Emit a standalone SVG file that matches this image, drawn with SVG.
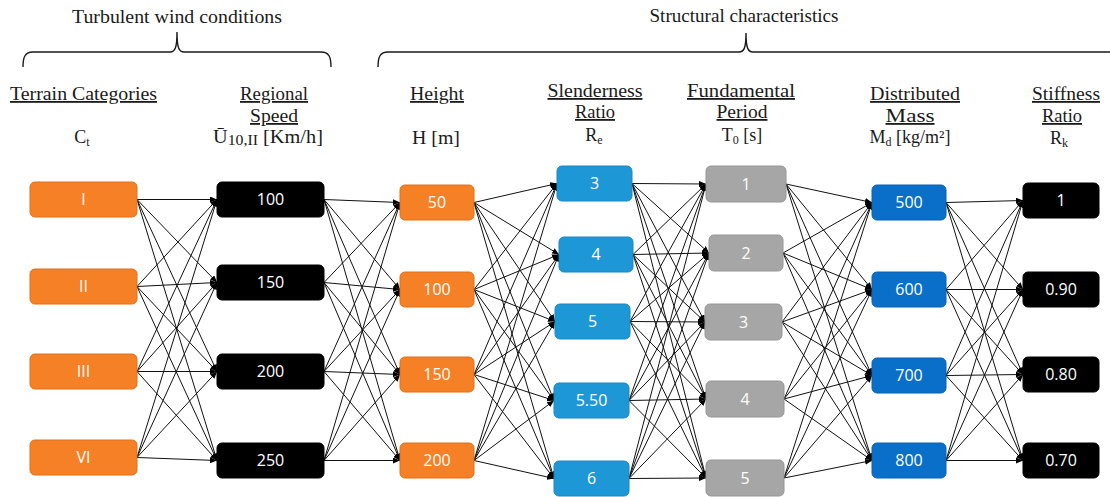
<svg xmlns="http://www.w3.org/2000/svg" width="1110" height="497" viewBox="0 0 1110 497">
  <style>
    .hd { font-family: "Liberation Serif", "Times New Roman", serif; font-size: 18px; fill: #1a1a1a; text-anchor: middle; }
    .ul { text-decoration: underline; }
    .sub { font-size: 12px; }
    .brace { fill: none; stroke: #1a1a1a; stroke-width: 1.4; }
    .box { stroke-width: 1; }
    .lbl { font-family: "Open Sans", "Liberation Sans", sans-serif; font-size: 16px; fill: #ffffff; text-anchor: middle; }
    .terrain { fill: #F58025; stroke: #E27018; }
    .speed { fill: #000000; stroke: #000000; }
    .height { fill: #F58025; stroke: #E27018; }
    .slender { fill: #1E97D6; stroke: #1A88C4; }
    .period { fill: #A6A6A6; stroke: #969696; }
    .mass { fill: #0A6FC8; stroke: #0963B4; }
    .stiff { fill: #000000; stroke: #000000; }
    #connectors line { stroke: #111; stroke-width: 1; marker-end: url(#arrow); }
  </style>
  <defs>
    <marker id="arrow" markerUnits="userSpaceOnUse" markerWidth="7" markerHeight="6" refX="7" refY="3" orient="auto">
      <path d="M0,0 L7,3 L0,6 z" fill="#000"/>
    </marker>
  </defs>

  <!-- group titles and braces -->
  <g id="group-wind">
    <text class="hd" x="177" y="23" font-size="19" textLength="210" lengthAdjust="spacingAndGlyphs">Turbulent wind conditions</text>
    <path class="brace" d="M23,67 C23,57 25,52 33,52 L170,52 C175,52 177,48 177,32 C177,48 179,52 184,52 L321,52 C329,52 331,57 331,67"/>
  </g>
  <g id="group-structure">
    <text class="hd" x="744" y="22" font-size="19" textLength="189" lengthAdjust="spacingAndGlyphs">Structural characteristics</text>
    <path class="brace" d="M378,67 C378,57 380,52 388,52 L739,52 C744,52 746,48 746,33 C746,48 748,52 753,52 L1112,52"/>
  </g>

  <!-- column headers -->
  <g id="header-terrain">
    <text class="hd ul" x="83.5" y="100" textLength="147" lengthAdjust="spacingAndGlyphs">Terrain Categories</text>
    <text class="hd" x="82" y="143">C<tspan class="sub" dy="3">t</tspan></text>
  </g>
  <g id="header-speed">
    <text class="hd ul" x="274" y="100" textLength="68" lengthAdjust="spacingAndGlyphs">Regional</text>
    <text class="hd ul" x="274" y="122" textLength="48" lengthAdjust="spacingAndGlyphs">Speed</text>
    <text class="hd" x="268" y="143" textLength="110" lengthAdjust="spacingAndGlyphs">Ū<tspan font-size="14" dy="2">10,II</tspan><tspan dy="-2"> [Km/h]</tspan></text>
  </g>
  <g id="header-height">
    <text class="hd ul" x="437" y="100" textLength="54" lengthAdjust="spacingAndGlyphs">Height</text>
    <text class="hd" x="436" y="144" textLength="48" lengthAdjust="spacingAndGlyphs">H [m]</text>
  </g>
  <g id="header-slenderness">
    <text class="hd ul" x="595" y="97" textLength="95" lengthAdjust="spacingAndGlyphs">Slenderness</text>
    <text class="hd ul" x="595" y="118" textLength="40" lengthAdjust="spacingAndGlyphs">Ratio</text>
    <text class="hd" x="594" y="141">R<tspan class="sub" dy="3">e</tspan></text>
  </g>
  <g id="header-period">
    <text class="hd ul" x="741" y="97" textLength="108" lengthAdjust="spacingAndGlyphs">Fundamental</text>
    <text class="hd ul" x="742" y="118" textLength="51" lengthAdjust="spacingAndGlyphs">Period</text>
    <text class="hd" x="742" y="141">T<tspan class="sub" dy="3">0</tspan><tspan dy="-3"> [s]</tspan></text>
  </g>
  <g id="header-mass">
    <text class="hd ul" x="915" y="100" textLength="90" lengthAdjust="spacingAndGlyphs">Distributed</text>
    <text class="hd ul" x="910" y="122" textLength="49" lengthAdjust="spacingAndGlyphs">Mass</text>
    <text class="hd" x="910" y="143">M<tspan class="sub" dy="3">d</tspan><tspan dy="-3"> [kg/m²]</tspan></text>
  </g>
  <g id="header-stiffness">
    <text class="hd ul" x="1066" y="100" textLength="68" lengthAdjust="spacingAndGlyphs">Stiffness</text>
    <text class="hd ul" x="1062" y="122" textLength="40" lengthAdjust="spacingAndGlyphs">Ratio</text>
    <text class="hd" x="1059" y="144">R<tspan class="sub" dy="3">k</tspan></text>
  </g>

  <!-- connectors: every value feeds every value of the next column -->
  <g id="connectors">
    <!-- terrain -> speed -->
    <line x1="137" y1="199.5" x2="217" y2="199.5"/>
    <line x1="137" y1="199.5" x2="217" y2="282.5"/>
    <line x1="137" y1="199.5" x2="217" y2="371.5"/>
    <line x1="137" y1="199.5" x2="217" y2="460.5"/>
    <line x1="137" y1="286.5" x2="217" y2="199.5"/>
    <line x1="137" y1="286.5" x2="217" y2="282.5"/>
    <line x1="137" y1="286.5" x2="217" y2="371.5"/>
    <line x1="137" y1="286.5" x2="217" y2="460.5"/>
    <line x1="137" y1="371.5" x2="217" y2="199.5"/>
    <line x1="137" y1="371.5" x2="217" y2="282.5"/>
    <line x1="137" y1="371.5" x2="217" y2="371.5"/>
    <line x1="137" y1="371.5" x2="217" y2="460.5"/>
    <line x1="137" y1="457.5" x2="217" y2="199.5"/>
    <line x1="137" y1="457.5" x2="217" y2="282.5"/>
    <line x1="137" y1="457.5" x2="217" y2="371.5"/>
    <line x1="137" y1="457.5" x2="217" y2="460.5"/>
    <!-- speed -> height -->
    <line x1="324" y1="199.5" x2="400" y2="202.5"/>
    <line x1="324" y1="199.5" x2="400" y2="289.5"/>
    <line x1="324" y1="199.5" x2="400" y2="374.5"/>
    <line x1="324" y1="199.5" x2="400" y2="460.5"/>
    <line x1="324" y1="282.5" x2="400" y2="202.5"/>
    <line x1="324" y1="282.5" x2="400" y2="289.5"/>
    <line x1="324" y1="282.5" x2="400" y2="374.5"/>
    <line x1="324" y1="282.5" x2="400" y2="460.5"/>
    <line x1="324" y1="371.5" x2="400" y2="202.5"/>
    <line x1="324" y1="371.5" x2="400" y2="289.5"/>
    <line x1="324" y1="371.5" x2="400" y2="374.5"/>
    <line x1="324" y1="371.5" x2="400" y2="460.5"/>
    <line x1="324" y1="460.5" x2="400" y2="202.5"/>
    <line x1="324" y1="460.5" x2="400" y2="289.5"/>
    <line x1="324" y1="460.5" x2="400" y2="374.5"/>
    <line x1="324" y1="460.5" x2="400" y2="460.5"/>
    <!-- height -> slenderness -->
    <line x1="474" y1="202.5" x2="557" y2="183.5"/>
    <line x1="474" y1="202.5" x2="559" y2="254.5"/>
    <line x1="474" y1="202.5" x2="555" y2="321.5"/>
    <line x1="474" y1="202.5" x2="554" y2="400.5"/>
    <line x1="474" y1="202.5" x2="554" y2="478.5"/>
    <line x1="474" y1="289.5" x2="557" y2="183.5"/>
    <line x1="474" y1="289.5" x2="559" y2="254.5"/>
    <line x1="474" y1="289.5" x2="555" y2="321.5"/>
    <line x1="474" y1="289.5" x2="554" y2="400.5"/>
    <line x1="474" y1="289.5" x2="554" y2="478.5"/>
    <line x1="474" y1="374.5" x2="557" y2="183.5"/>
    <line x1="474" y1="374.5" x2="559" y2="254.5"/>
    <line x1="474" y1="374.5" x2="555" y2="321.5"/>
    <line x1="474" y1="374.5" x2="554" y2="400.5"/>
    <line x1="474" y1="374.5" x2="554" y2="478.5"/>
    <line x1="474" y1="460.5" x2="557" y2="183.5"/>
    <line x1="474" y1="460.5" x2="559" y2="254.5"/>
    <line x1="474" y1="460.5" x2="555" y2="321.5"/>
    <line x1="474" y1="460.5" x2="554" y2="400.5"/>
    <line x1="474" y1="460.5" x2="554" y2="478.5"/>
    <!-- slenderness -> period -->
    <line x1="632" y1="183.5" x2="706" y2="184"/>
    <line x1="632" y1="183.5" x2="709" y2="253"/>
    <line x1="632" y1="183.5" x2="705" y2="322"/>
    <line x1="632" y1="183.5" x2="706" y2="399"/>
    <line x1="632" y1="183.5" x2="706" y2="478"/>
    <line x1="633" y1="254.5" x2="706" y2="184"/>
    <line x1="633" y1="254.5" x2="709" y2="253"/>
    <line x1="633" y1="254.5" x2="705" y2="322"/>
    <line x1="633" y1="254.5" x2="706" y2="399"/>
    <line x1="633" y1="254.5" x2="706" y2="478"/>
    <line x1="630" y1="321.5" x2="706" y2="184"/>
    <line x1="630" y1="321.5" x2="709" y2="253"/>
    <line x1="630" y1="321.5" x2="705" y2="322"/>
    <line x1="630" y1="321.5" x2="706" y2="399"/>
    <line x1="630" y1="321.5" x2="706" y2="478"/>
    <line x1="629" y1="400.5" x2="706" y2="184"/>
    <line x1="629" y1="400.5" x2="709" y2="253"/>
    <line x1="629" y1="400.5" x2="705" y2="322"/>
    <line x1="629" y1="400.5" x2="706" y2="399"/>
    <line x1="629" y1="400.5" x2="706" y2="478"/>
    <line x1="629" y1="478.5" x2="706" y2="184"/>
    <line x1="629" y1="478.5" x2="709" y2="253"/>
    <line x1="629" y1="478.5" x2="705" y2="322"/>
    <line x1="629" y1="478.5" x2="706" y2="399"/>
    <line x1="629" y1="478.5" x2="706" y2="478"/>
    <!-- period -> mass -->
    <line x1="786" y1="184" x2="872" y2="202.5"/>
    <line x1="786" y1="184" x2="872" y2="289.5"/>
    <line x1="786" y1="184" x2="872" y2="375.5"/>
    <line x1="786" y1="184" x2="872" y2="460.5"/>
    <line x1="783" y1="253" x2="872" y2="202.5"/>
    <line x1="783" y1="253" x2="872" y2="289.5"/>
    <line x1="783" y1="253" x2="872" y2="375.5"/>
    <line x1="783" y1="253" x2="872" y2="460.5"/>
    <line x1="782" y1="322" x2="872" y2="202.5"/>
    <line x1="782" y1="322" x2="872" y2="289.5"/>
    <line x1="782" y1="322" x2="872" y2="375.5"/>
    <line x1="782" y1="322" x2="872" y2="460.5"/>
    <line x1="784" y1="399" x2="872" y2="202.5"/>
    <line x1="784" y1="399" x2="872" y2="289.5"/>
    <line x1="784" y1="399" x2="872" y2="375.5"/>
    <line x1="784" y1="399" x2="872" y2="460.5"/>
    <line x1="784" y1="478" x2="872" y2="202.5"/>
    <line x1="784" y1="478" x2="872" y2="289.5"/>
    <line x1="784" y1="478" x2="872" y2="375.5"/>
    <line x1="784" y1="478" x2="872" y2="460.5"/>
    <!-- mass -> stiffness -->
    <line x1="946" y1="202.5" x2="1023" y2="200.5"/>
    <line x1="946" y1="202.5" x2="1023" y2="289.5"/>
    <line x1="946" y1="202.5" x2="1023" y2="374.5"/>
    <line x1="946" y1="202.5" x2="1023" y2="460.5"/>
    <line x1="946" y1="289.5" x2="1023" y2="200.5"/>
    <line x1="946" y1="289.5" x2="1023" y2="289.5"/>
    <line x1="946" y1="289.5" x2="1023" y2="374.5"/>
    <line x1="946" y1="289.5" x2="1023" y2="460.5"/>
    <line x1="946" y1="375.5" x2="1023" y2="200.5"/>
    <line x1="946" y1="375.5" x2="1023" y2="289.5"/>
    <line x1="946" y1="375.5" x2="1023" y2="374.5"/>
    <line x1="946" y1="375.5" x2="1023" y2="460.5"/>
    <line x1="946" y1="460.5" x2="1023" y2="200.5"/>
    <line x1="946" y1="460.5" x2="1023" y2="289.5"/>
    <line x1="946" y1="460.5" x2="1023" y2="374.5"/>
    <line x1="946" y1="460.5" x2="1023" y2="460.5"/>
  </g>

  <!-- terrain categories -->
  <g id="terrain-I"><rect class="box terrain" x="30" y="182" width="107" height="35" rx="5"/><text class="lbl" x="83.5" y="205">I</text></g>
  <g id="terrain-II"><rect class="box terrain" x="30" y="269" width="107" height="35" rx="5"/><text class="lbl" x="83.5" y="292">II</text></g>
  <g id="terrain-III"><rect class="box terrain" x="30" y="354" width="107" height="35" rx="5"/><text class="lbl" x="83.5" y="377">III</text></g>
  <g id="terrain-VI"><rect class="box terrain" x="30" y="440" width="107" height="35" rx="5"/><text class="lbl" x="83.5" y="463">VI</text></g>

  <!-- regional speed -->
  <g id="speed-100"><rect class="box speed" x="217" y="182" width="107" height="35" rx="5"/><text class="lbl" x="270.5" y="205">100</text></g>
  <g id="speed-150"><rect class="box speed" x="217" y="265" width="107" height="35" rx="5"/><text class="lbl" x="270.5" y="288">150</text></g>
  <g id="speed-200"><rect class="box speed" x="217" y="354" width="107" height="35" rx="5"/><text class="lbl" x="270.5" y="377">200</text></g>
  <g id="speed-250"><rect class="box speed" x="217" y="443" width="107" height="35" rx="5"/><text class="lbl" x="270.5" y="466">250</text></g>

  <!-- height -->
  <g id="height-50"><rect class="box height" x="400" y="185" width="74" height="35" rx="5"/><text class="lbl" x="437" y="208">50</text></g>
  <g id="height-100"><rect class="box height" x="400" y="272" width="74" height="35" rx="5"/><text class="lbl" x="437" y="295">100</text></g>
  <g id="height-150"><rect class="box height" x="400" y="357" width="74" height="35" rx="5"/><text class="lbl" x="437" y="380">150</text></g>
  <g id="height-200"><rect class="box height" x="400" y="443" width="74" height="35" rx="5"/><text class="lbl" x="437" y="466">200</text></g>

  <!-- slenderness ratio -->
  <g id="slender-3"><rect class="box slender" x="557" y="166" width="75" height="35" rx="5"/><text class="lbl" x="594.5" y="189">3</text></g>
  <g id="slender-4"><rect class="box slender" x="559" y="237" width="74" height="35" rx="5"/><text class="lbl" x="596" y="260">4</text></g>
  <g id="slender-5"><rect class="box slender" x="555" y="304" width="75" height="35" rx="5"/><text class="lbl" x="592.5" y="327">5</text></g>
  <g id="slender-550"><rect class="box slender" x="554" y="383" width="75" height="35" rx="5"/><text class="lbl" x="591.5" y="406">5.50</text></g>
  <g id="slender-6"><rect class="box slender" x="554" y="461" width="75" height="35" rx="5"/><text class="lbl" x="591.5" y="484">6</text></g>

  <!-- fundamental period -->
  <g id="period-1"><rect class="box period" x="706" y="166" width="80" height="36" rx="5"/><text class="lbl" x="746" y="189.5">1</text></g>
  <g id="period-2"><rect class="box period" x="709" y="235" width="74" height="36" rx="5"/><text class="lbl" x="746" y="258.5">2</text></g>
  <g id="period-3"><rect class="box period" x="705" y="304" width="77" height="36" rx="5"/><text class="lbl" x="743.5" y="327.5">3</text></g>
  <g id="period-4"><rect class="box period" x="706" y="381" width="78" height="36" rx="5"/><text class="lbl" x="745" y="404.5">4</text></g>
  <g id="period-5"><rect class="box period" x="706" y="460" width="78" height="36" rx="5"/><text class="lbl" x="745" y="483.5">5</text></g>

  <!-- distributed mass -->
  <g id="mass-500"><rect class="box mass" x="872" y="185" width="74" height="35" rx="5"/><text class="lbl" x="909" y="208">500</text></g>
  <g id="mass-600"><rect class="box mass" x="872" y="272" width="74" height="35" rx="5"/><text class="lbl" x="909" y="295">600</text></g>
  <g id="mass-700"><rect class="box mass" x="872" y="358" width="74" height="35" rx="5"/><text class="lbl" x="909" y="381">700</text></g>
  <g id="mass-800"><rect class="box mass" x="872" y="443" width="74" height="35" rx="5"/><text class="lbl" x="909" y="466">800</text></g>

  <!-- stiffness ratio -->
  <g id="stiff-1"><rect class="box stiff" x="1023" y="183" width="76" height="35" rx="5"/><text class="lbl" x="1061" y="206">1</text></g>
  <g id="stiff-090"><rect class="box stiff" x="1023" y="272" width="76" height="35" rx="5"/><text class="lbl" x="1061" y="295">0.90</text></g>
  <g id="stiff-080"><rect class="box stiff" x="1023" y="357" width="76" height="35" rx="5"/><text class="lbl" x="1061" y="380">0.80</text></g>
  <g id="stiff-070"><rect class="box stiff" x="1023" y="443" width="76" height="35" rx="5"/><text class="lbl" x="1061" y="466">0.70</text></g>
</svg>
